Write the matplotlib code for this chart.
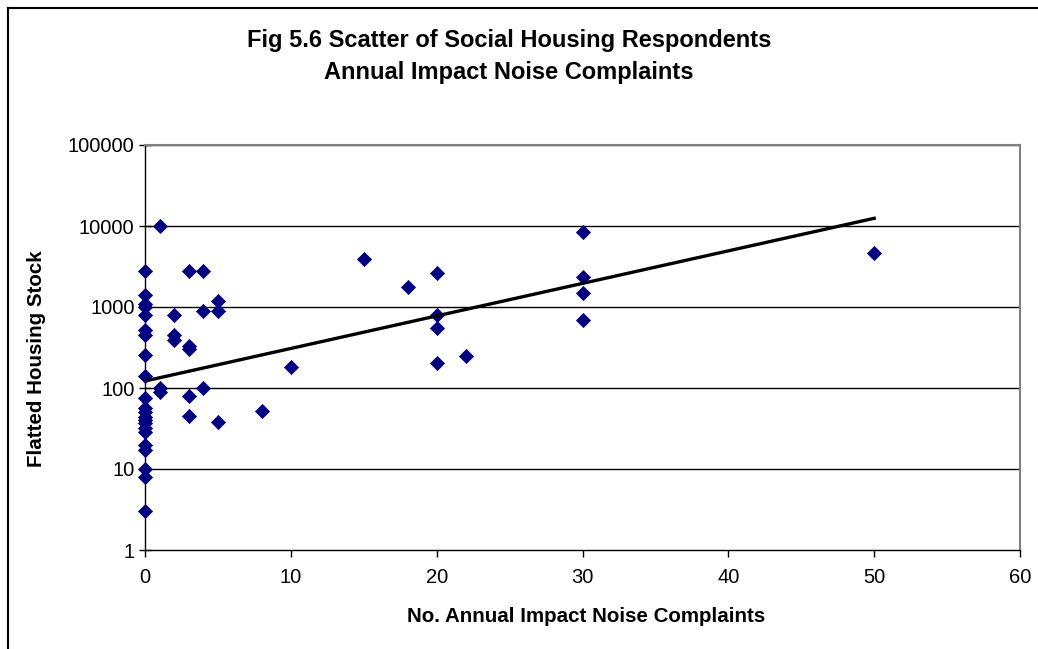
import numpy as np
import matplotlib
matplotlib.use("Agg")
import matplotlib.pyplot as plt
from matplotlib.lines import Line2D
from matplotlib.ticker import FixedLocator, FixedFormatter, NullLocator

plt.rcParams['font.family'] = ['Liberation Sans', 'DejaVu Sans']

# Survey responses: annual impact-noise complaints vs flatted housing stock
complaints = [
    0, 0, 0, 0, 0, 0, 0, 0, 0, 0, 0, 0, 0, 0, 0, 0, 0, 0, 0, 0, 0, 0,
    1, 1, 1,
    2, 2, 2,
    3, 3, 3, 3, 3,
    4, 4, 4,
    5, 5, 5,
    8, 10, 15, 18,
    20, 20, 20, 20,
    22,
    30, 30, 30, 30,
    50,
]
housing_stock = [
    2780, 1400, 1090, 1010, 800, 520, 450, 255, 141, 75, 56, 51, 44, 40, 37, 32, 29, 20, 17, 10, 8, 3,
    10000, 100, 90,
    800, 450, 390,
    2780, 330, 300, 80, 45,
    2780, 900, 100,
    1200, 900, 38,
    52, 183, 3900, 1780,
    2650, 800, 555, 202,
    250,
    8360, 2325, 1476, 697,
    4680,
]

# exponential trendline y = a * exp(b * x)
trend_a = 122.0
trend_b = 0.0925

y_ticks = [1, 10, 100, 1000, 10000, 100000]
y_tick_labels = ["1", "10", "100", "1000", "10000", "100000"]
x_ticks = [0, 10, 20, 30, 40, 50, 60]
x_tick_labels = ["0", "10", "20", "30", "40", "50", "60"]

fig = plt.figure(figsize=(10.38, 6.49), dpi=100)
ax = fig.add_axes([145 / 1038, 1 - 550 / 649, (1020 - 145) / 1038, (550 - 145) / 649])

ax.set_yscale("log")
ax.set_xlim(0, 60)
ax.set_ylim(1, 100000)

# horizontal gridlines at each decade
for yv in y_ticks[1:]:
    ax.axhline(yv, color="black", lw=1.0, zorder=1)

ax.scatter(complaints, housing_stock, marker="D", s=52, color="#000080",
           edgecolors="#000080", linewidths=0.5, zorder=3, clip_on=False)

x_arr = np.array(complaints, dtype=float)
xt = np.linspace(x_arr.min(), x_arr.max(), 200)
ax.plot(xt, trend_a * np.exp(trend_b * xt), color="black", lw=2.4, zorder=4)

ax.yaxis.set_major_locator(FixedLocator(y_ticks))
ax.yaxis.set_major_formatter(FixedFormatter(y_tick_labels))
ax.yaxis.set_minor_locator(NullLocator())
ax.xaxis.set_major_locator(FixedLocator(x_ticks))
ax.xaxis.set_major_formatter(FixedFormatter(x_tick_labels))

ax.tick_params(axis="y", direction="inout", length=9, width=1, labelsize=14.5, pad=3)
ax.tick_params(axis="x", direction="out", length=5, width=1, labelsize=14.5, pad=8)

for side in ("left", "bottom"):
    ax.spines[side].set_color("black")
    ax.spines[side].set_linewidth(1.0)
for side in ("top", "right"):
    ax.spines[side].set_color("#808080")
    ax.spines[side].set_linewidth(1.5)

fig.text(509 / 1038, 1 - 40 / 649, "Fig 5.6 Scatter of Social Housing Respondents",
         ha="center", va="center", fontsize=17, fontweight="bold")
fig.text(509 / 1038, 1 - 72 / 649, "Annual Impact Noise Complaints",
         ha="center", va="center", fontsize=17, fontweight="bold")
fig.text(586 / 1038, 1 - 616 / 649, "No. Annual Impact Noise Complaints",
         ha="center", va="center", fontsize=14.8, fontweight="bold")
fig.text(37 / 1038, 1 - 359 / 649, "Flatted Housing Stock",
         ha="center", va="center", fontsize=14.8, fontweight="bold", rotation=90)

# chart-area border on the left and top edges
fig.add_artist(Line2D([8 / 1038, 8 / 1038], [0, 1 - 8 / 649], transform=fig.transFigure,
                      color="black", lw=1.5))
fig.add_artist(Line2D([8 / 1038, 1], [1 - 8 / 649, 1 - 8 / 649], transform=fig.transFigure,
                      color="black", lw=1.5))

fig.savefig("out.png", dpi=100)
